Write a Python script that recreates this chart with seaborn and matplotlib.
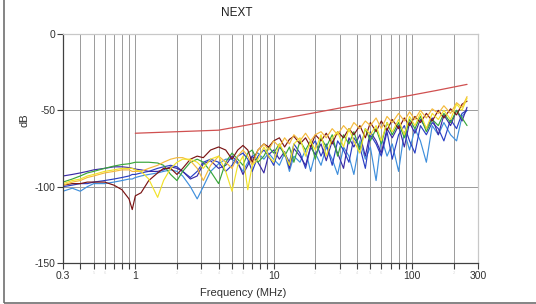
import numpy as np
import pandas as pd
import matplotlib
matplotlib.use("Agg")
import matplotlib.pyplot as plt
import seaborn as sns
from matplotlib.patches import Rectangle

freq = [0.3, 0.35, 0.4, 0.45, 0.5, 0.6, 0.7, 0.8, 0.9, 0.95,
        1.0, 1.1, 1.25, 1.45, 1.6, 1.8, 2.0, 2.2, 2.5, 2.8,
        3.1, 3.5, 4.0, 4.5, 5.0, 5.5, 6.0, 6.5, 7.0, 7.7,
        8.5, 9.2, 10, 11, 12, 13, 14, 15.5, 17, 18.5,
        20, 22, 24, 26.5, 29, 32, 35, 38, 42, 46,
        50, 55, 60, 66, 72, 80, 88, 96, 105, 115,
        127, 140, 155, 170, 190, 210, 230, 250]

sky = [-103, -101, -103, -100, -98, -98, -97, -96, -95, -95,
       -94, -93, -92, -91, -90, -89, -90, -93, -100, -108,
       -100, -90, -85, -82, -82, -85, -90, -84, -80, -78,
       -82, -78, -82, -86, -78, -90, -80, -84, -76, -90,
       -78, -86, -74, -82, -92, -74, -80, -92, -70, -82,
       -74, -96, -68, -80, -72, -90, -64, -76, -62, -70,
       -84, -60, -66, -58, -66, -70, -54, -50]

royal = [-100, -99, -98, -98, -97, -96, -95, -94, -93, -92,
         -92, -91, -90, -88, -87, -86, -87, -90, -94, -90,
         -84, -82, -84, -90, -86, -80, -78, -82, -90, -80,
         -76, -80, -86, -74, -78, -84, -72, -78, -88, -74,
         -70, -80, -72, -86, -70, -76, -84, -68, -74, -88,
         -66, -72, -80, -64, -82, -66, -60, -70, -78, -60,
         -66, -58, -62, -70, -56, -62, -52, -50]

indigo = [-93, -92, -91, -90, -89, -88, -87, -87, -87.5, -88,
          -88.5, -89, -90, -90, -89, -87, -88, -90, -95, -93,
          -85, -83, -88, -86, -80, -84, -92, -86, -80, -84,
          -91, -79, -76, -82, -77, -88, -75, -80, -86, -74,
          -79, -72, -83, -70, -78, -88, -68, -74, -66, -80,
          -64, -70, -78, -62, -68, -60, -74, -58, -65, -56,
          -62, -55, -66, -53, -60, -50, -57, -48]

green = [-97, -95, -93, -91, -90, -88, -86.5, -85.5, -85, -84.5,
         -84, -84, -84, -84.5, -86, -92, -96, -90, -84, -82,
         -84, -90, -98, -84, -78, -82, -86, -78, -76, -84,
         -80, -74, -78, -72, -80, -74, -84, -70, -76, -70,
         -82, -68, -74, -66, -80, -66, -72, -64, -76, -62,
         -70, -62, -72, -58, -66, -58, -68, -56, -62, -54,
         -64, -56, -60, -52, -58, -50, -55, -60]

maroon = [-99, -98, -98, -97, -97, -97, -99, -102, -108, -115,
          -106, -104, -96, -91, -88, -88, -92, -88, -82, -80,
          -81, -76, -74, -76, -82, -76, -73, -76, -84, -76,
          -72, -74, -70, -68, -74, -69, -67, -72, -68, -74,
          -66, -70, -65, -72, -64, -68, -62, -66, -60, -68,
          -58, -64, -57, -63, -56, -62, -55, -60, -54, -58,
          -52, -57, -50, -55, -49, -53, -46, -44]

gold = [-99, -97, -96, -94, -93, -91, -90, -89, -89, -90,
        -90, -90, -88, -86, -84, -82, -81, -81, -83, -88,
        -96, -86, -80, -84, -88, -80, -76, -80, -86, -76,
        -72, -76, -70, -74, -68, -72, -66, -70, -65, -70,
        -66, -64, -68, -62, -66, -60, -64, -58, -62, -57,
        -60, -55, -62, -54, -58, -52, -57, -51, -56, -50,
        -55, -49, -52, -47, -52, -45, -48, -41]

yellow = [-98, -96, -95, -93, -92, -90, -89, -88, -88, -88,
          -89, -90, -95, -107, -96, -88, -84, -82, -82, -84,
          -88, -82, -80, -90, -103, -86, -80, -102, -86, -82,
          -74, -80, -84, -72, -78, -86, -72, -68, -80, -70,
          -76, -66, -80, -68, -64, -74, -62, -70, -78, -62,
          -66, -60, -70, -58, -64, -56, -66, -54, -60, -52,
          -62, -52, -56, -50, -56, -46, -50, -42]

limit_freq = [1, 4, 10, 20, 30, 50, 100, 150, 250]
limit_db = [-65, -63, -56.5, -51.5, -48.5, -45, -40, -37, -33]

series_names = ["sky", "royal", "indigo", "green", "maroon", "gold", "yellow"]
series_vals = [sky, royal, indigo, green, maroon, gold, yellow]
palette = {"sky": "#3f8fdc", "royal": "#2a3fc4", "indigo": "#3a2aa6",
           "green": "#3aa63a", "maroon": "#7a1414", "gold": "#f4ba3c",
           "yellow": "#f2e22a"}

rows = []
for name, vals in zip(series_names, series_vals):
    for f, v in zip(freq, vals):
        rows.append({"freq": f, "dB": v, "pair": name})
df = pd.DataFrame(rows)
lim_df = pd.DataFrame({"freq": limit_freq, "dB": limit_db})

sns.set_style("white")
plt.rcParams["font.family"] = ["Liberation Sans", "DejaVu Sans"]

fig = plt.figure(figsize=(5.36, 3.04), dpi=100)
ax = fig.add_axes([63 / 536, 41 / 304, 415 / 536, 229 / 304])

grid_c = "#9a9a9a"
for xv in [0.4, 0.5, 0.6, 0.7, 0.8, 0.9, 1, 2, 3, 4, 5, 6, 7, 8, 9, 10,
           20, 30, 40, 50, 60, 70, 80, 90, 100, 200]:
    ax.axvline(xv, color=grid_c, lw=0.7, zorder=0)
for yv in [-50, -100]:
    ax.axhline(yv, color=grid_c, lw=0.7, zorder=0)

sns.lineplot(data=df, x="freq", y="dB", hue="pair", palette=palette,
             hue_order=series_names, estimator=None, lw=0.85, legend=False,
             ax=ax, zorder=2)
sns.lineplot(data=lim_df, x="freq", y="dB", color="#d05050", lw=0.9,
             estimator=None, legend=False, ax=ax, zorder=3)

ax.set_xscale("log")
ax.set_xlim(0.3, 300)
ax.set_ylim(-150, 0)

major = [0.3, 1, 10, 100, 300]
minor = [0.4, 0.5, 0.6, 0.7, 0.8, 0.9, 2, 3, 4, 5, 6, 7, 8, 9,
         20, 30, 40, 50, 60, 70, 80, 90, 200]
minor_labels = {2: "2", 3: "3", 4: "4", 5: "5", 6: "6", 20: "2", 30: "3",
                40: "4", 50: "5", 60: "6", 0.5: "5", 0.6: "6", 200: "2"}
ax.set_xticks(major)
ax.set_xticklabels(["0.3", "1", "10", "100", "300"])
ax.set_xticks(minor, minor=True)
ax.set_xticklabels([minor_labels.get(m, "") for m in minor],
                   minor=True, fontsize=3, color="#dadada")
ax.set_yticks([0, -50, -100, -150])
ax.set_yticklabels(["0", "-50", "-100", "-150"])

ax.tick_params(axis="both", which="major", direction="out", length=4,
               width=0.8, color="#404040", labelsize=7.5,
               labelcolor="#303030", pad=1.5, bottom=True, left=True)
ax.tick_params(axis="x", which="minor", direction="out", length=4,
               width=0.8, color="#404040", pad=1.5, bottom=True)

for s in ["left", "bottom"]:
    ax.spines[s].set_color("#404040")
    ax.spines[s].set_linewidth(0.9)
for s in ["top", "right"]:
    ax.spines[s].set_color("#c8c8c8")
    ax.spines[s].set_linewidth(0.9)

ax.set_xlabel("")
ax.set_ylabel("")
fig.text(243 / 536, 1 - 293 / 304, "Frequency (MHz)", ha="center",
         va="center", fontsize=8, color="#303030")
fig.text(25 / 536, 1 - 120 / 304, "dB", ha="center", va="center",
         rotation=90, fontsize=8, color="#303030")
fig.text(237 / 536, 1 - 13 / 304, "NEXT", ha="center", va="center",
         fontsize=8.5, color="#202020")

fig.patches.append(Rectangle((3.5 / 536, 1.5 / 304), 1.2, 1.2,
                             transform=fig.transFigure, fill=False,
                             edgecolor="#707070", lw=1.2))

fig.savefig("out.png", dpi=100)
